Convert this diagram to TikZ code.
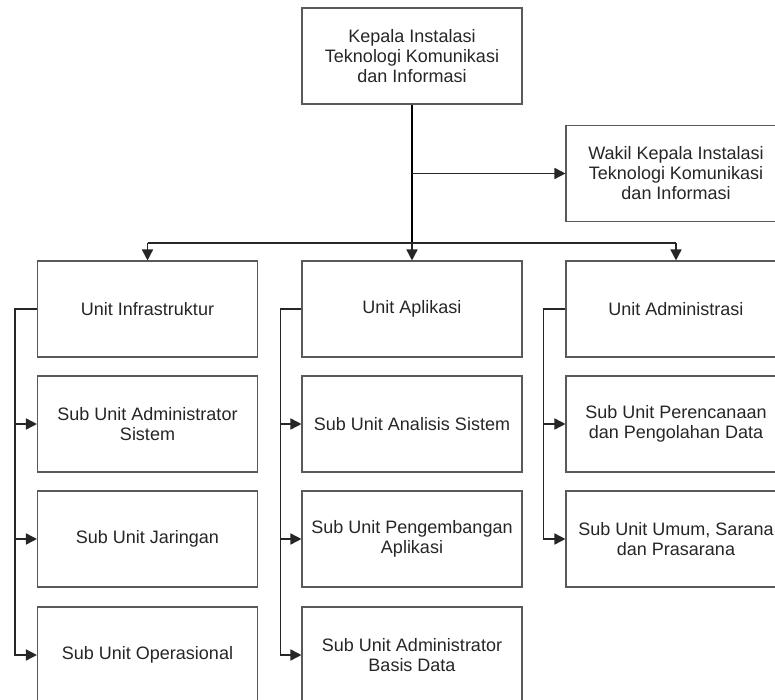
\documentclass[tikz,border=0pt]{standalone}
\usepackage{fontspec}
\setmainfont{Liberation Sans}
\usetikzlibrary{arrows.meta}
\begin{document}
\begin{tikzpicture}[x=1pt,y=-1pt,
  box/.style={draw=black!65, line width=1.1pt, fill=white, minimum width=220pt, minimum height=96pt,
    align=center, font=\fontsize{18}{20}\selectfont, text=black!85, inner sep=0pt},
  link/.style={draw=black!85, line width=1.6pt},
  conn/.style={link, -{Triangle[length=11pt,width=11pt]}},
  trunk/.style={draw=black, line width=2.6pt}
]
\useasboundingbox[fill=white] (0,0) rectangle (775,700);
% top
\node[box] (kepala) at (412,56) {Kepala Instalasi\\Teknologi Komunikasi\\dan Informasi};
\node[box] (wakil) at (676,173.5) {Wakil Kepala Instalasi\\Teknologi Komunikasi\\dan Informasi};
% column 1
\node[box] (infra) at (147.5,309) {Unit Infrastruktur};
\node[box] (sas) at (147.5,424) {Sub Unit Administrator\\Sistem};
\node[box] (jar) at (147.5,539) {Sub Unit Jaringan};
\node[box] (ops) at (147.5,655) {Sub Unit Operasional};
% column 2
\node[box] (apl) at (412,309) {Unit Aplikasi};
\node[box] (ana) at (412,424) {Sub Unit Analisis Sistem};
\node[box] (pen) at (412,539) {Sub Unit Pengembangan\\Aplikasi};
\node[box] (abd) at (412,655) {Sub Unit Administrator\\Basis Data};
% column 3
\node[box] (adm) at (676,309) {Unit Administrasi};
\node[box] (per) at (676,424) {Sub Unit Perencanaan\\dan Pengolahan Data};
\node[box] (umu) at (676,539) {Sub Unit Umum, Sarana\\dan Prasarana};
% connectors from the head
\coordinate (j) at (412,243);
\draw[trunk] (kepala.south) -- (j);
\draw[conn] (kepala.south |- wakil.west) -- (wakil.west);
\draw[link] (infra.north |- j) -- (adm.north |- j);
\draw[conn] (infra.north |- j) -- (infra.north);
\draw[conn] (j) -- (apl.north);
\draw[conn] (adm.north |- j) -- (adm.north);
% column 1 branch
\coordinate (b1) at ([xshift=-22pt]infra.west);
\draw[conn] (infra.west) -- (b1) |- (ops.west);
\draw[conn] (b1 |- sas.west) -- (sas.west);
\draw[conn] (b1 |- jar.west) -- (jar.west);
% column 2 branch
\coordinate (b2) at ([xshift=-21pt]apl.west);
\draw[conn] (apl.west) -- (b2) |- (abd.west);
\draw[conn] (b2 |- ana.west) -- (ana.west);
\draw[conn] (b2 |- pen.west) -- (pen.west);
% column 3 branch
\coordinate (b3) at ([xshift=-22pt]adm.west);
\draw[conn] (adm.west) -- (b3) |- (umu.west);
\draw[conn] (b3 |- per.west) -- (per.west);
\end{tikzpicture}
\end{document}
